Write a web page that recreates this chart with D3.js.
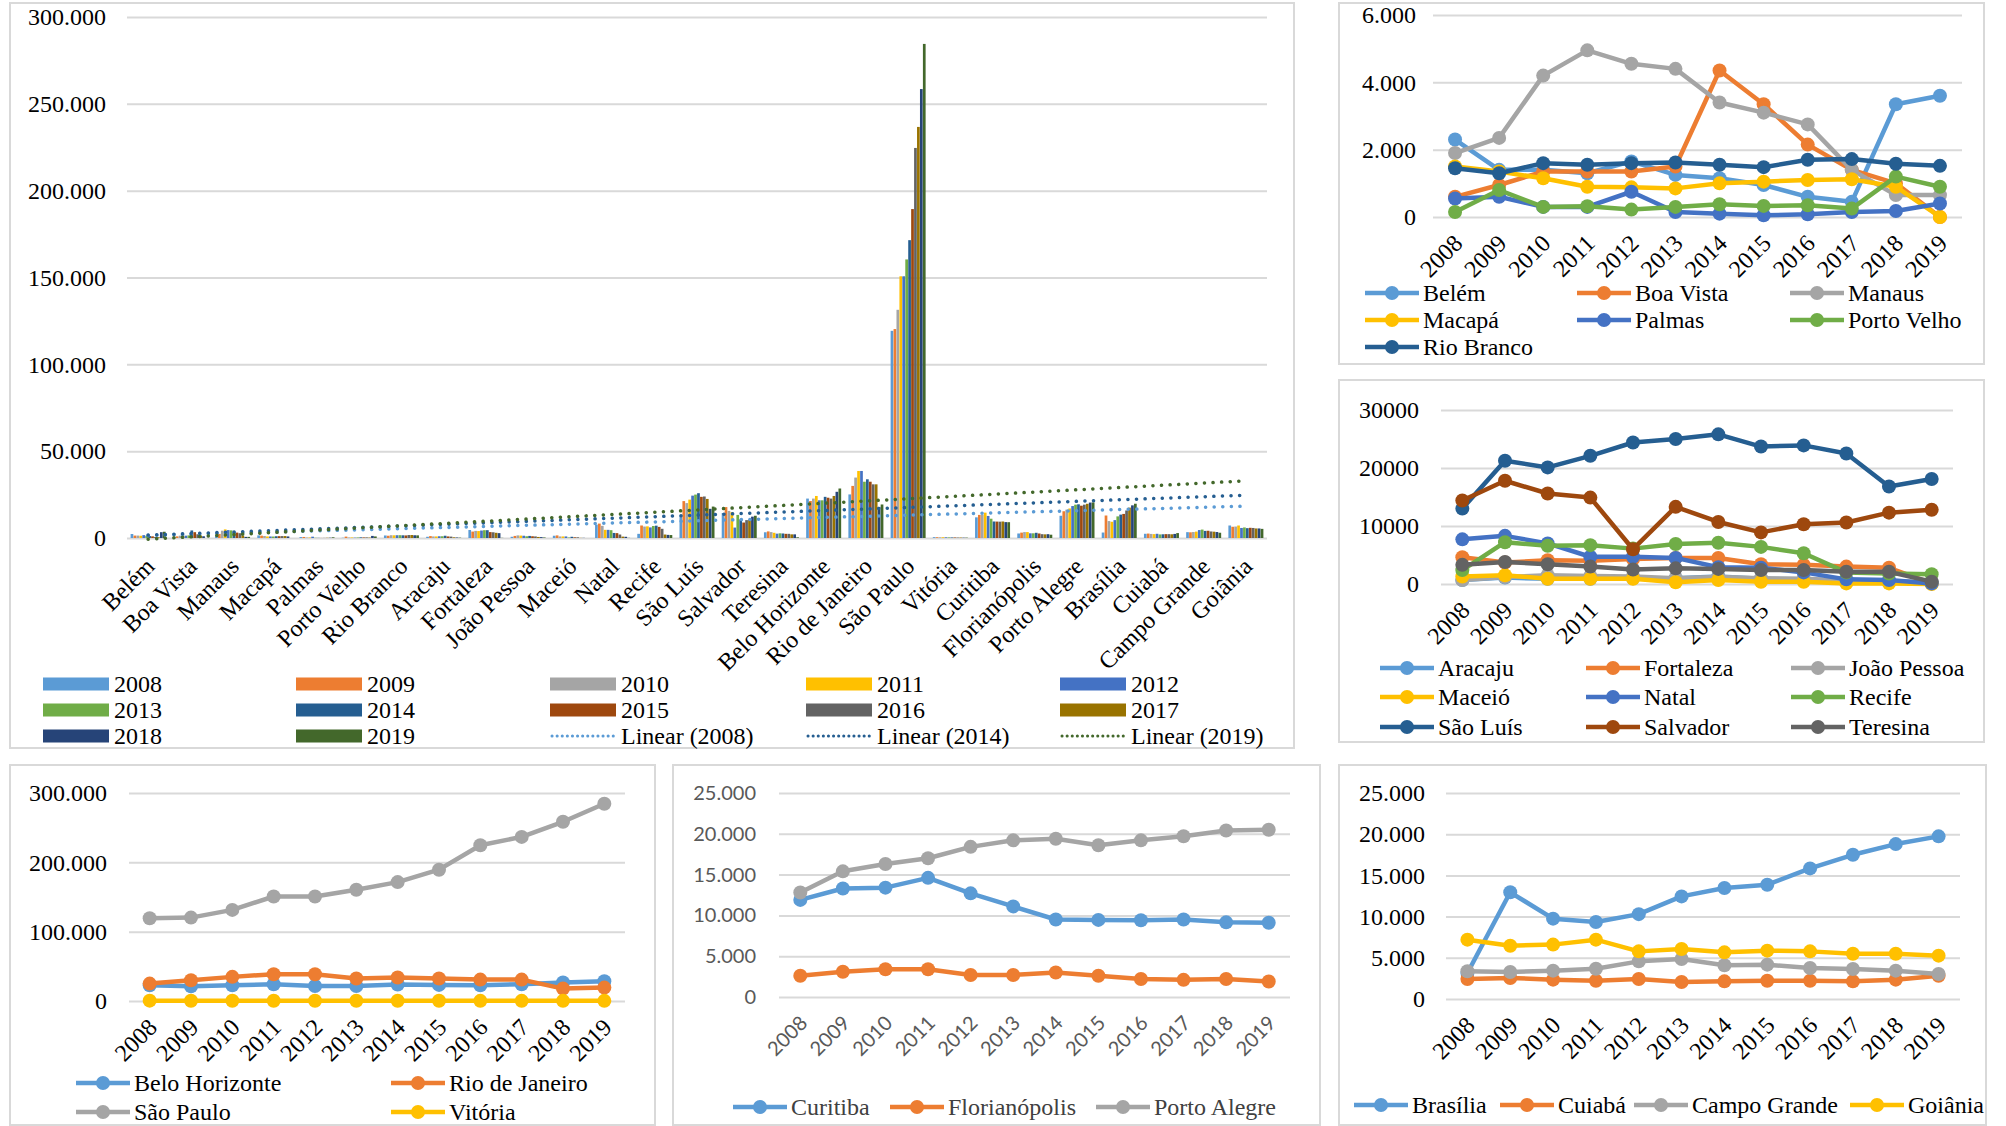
<!DOCTYPE html>
<html>
<head>
<meta charset="utf-8">
<script src="https://cdn.jsdelivr.net/npm/d3@7"></script>
<style>
  body { margin: 0; background: #fff; }
  svg { display: block; }
</style>
</head>
<body>
<svg id="chart" width="2006" height="1126"></svg>
<script>
// ---- data: yearly values per capital city, 2008–2019 ----
const years = [2008, 2009, 2010, 2011, 2012, 2013, 2014, 2015, 2016, 2017, 2018, 2019];

const northCities = ["Belém", "Boa Vista", "Manaus", "Macapá", "Palmas", "Porto Velho", "Rio Branco"];
const northValues = [
  [2300, 1400, 1400, 1300, 1650, 1250, 1150, 950, 600, 450, 3350, 3600],
  [600, 950, 1350, 1350, 1350, 1500, 4350, 3350, 2150, 1400, 1000, 0],
  [1900, 2350, 4200, 4950, 4550, 4400, 3400, 3100, 2750, 1400, 650, 650],
  [1500, 1350, 1150, 900, 880, 850, 1000, 1050, 1100, 1120, 900, 0],
  [550, 600, 300, 300, 750, 150, 100, 50, 80, 150, 180, 400],
  [150, 800, 300, 320, 220, 300, 380, 330, 350, 250, 1200, 900],
  [1450, 1300, 1600, 1550, 1600, 1620, 1550, 1480, 1700, 1720, 1580, 1520]
];

const northeastCities = ["Aracaju", "Fortaleza", "João Pessoa", "Maceió", "Natal", "Recife", "São Luís", "Salvador", "Teresina"];
const northeastValues = [
  [700, 1100, 900, 900, 1000, 1000, 1300, 900, 800, 400, 300, 200],
  [4600, 3700, 4100, 4000, 4300, 4500, 4500, 3400, 3300, 3000, 2800, 100],
  [700, 1200, 1500, 1400, 1300, 1000, 1200, 1000, 900, 600, 500, 300],
  [1300, 1500, 900, 900, 900, 300, 700, 400, 400, 100, 100, 0],
  [7700, 8300, 7000, 4700, 4700, 4500, 2900, 2800, 2000, 800, 700, 100],
  [2400, 7200, 6600, 6700, 6100, 6900, 7100, 6400, 5300, 2000, 1800, 1700],
  [13000, 21250, 20100, 22100, 24400, 25000, 25800, 23700, 23900, 22500, 16800, 18100],
  [14400, 17800, 15600, 14900, 6000, 13300, 10700, 8900, 10300, 10600, 12300, 12800],
  [3300, 3800, 3400, 3000, 2500, 2700, 2600, 2400, 2400, 2100, 2100, 400]
];

const southeastCities = ["Belo Horizonte", "Rio de Janeiro", "São Paulo", "Vitória"];
const southeastValues = [
  [22700, 21300, 22700, 24200, 21700, 21700, 23700, 23200, 22700, 24200, 26600, 28500],
  [25100, 30000, 34800, 38600, 38600, 32400, 33800, 32400, 30900, 30900, 17900, 19300],
  [119300, 120300, 131400, 150700, 150700, 160400, 171500, 189400, 224600, 236700, 258500, 284500],
  [500, 450, 400, 450, 400, 350, 300, 300, 250, 250, 200, 200]
];

const southCities = ["Curitiba", "Florianópolis", "Porto Alegre"];
const southValues = [
  [11900, 13300, 13400, 14600, 12700, 11100, 9500, 9450, 9400, 9500, 9150, 9100],
  [2600, 3100, 3400, 3400, 2700, 2700, 3000, 2600, 2200, 2100, 2200, 1900],
  [12800, 15400, 16300, 17000, 18400, 19200, 19400, 18600, 19200, 19700, 20400, 20500]
];

const centerWestCities = ["Brasília", "Cuiabá", "Campo Grande", "Goiânia"];
const centerWestValues = [
  [3150, 12950, 9750, 9350, 10300, 12450, 13470, 13870, 15850, 17500, 18800, 19740],
  [2430, 2550, 2350, 2220, 2430, 2060, 2140, 2220, 2220, 2140, 2350, 2830],
  [3360, 3280, 3440, 3680, 4570, 4850, 4090, 4170, 3760, 3640, 3440, 3030],
  [7200, 6470, 6600, 7200, 5780, 6070, 5660, 5870, 5780, 5500, 5500, 5260]
];

const trendYears = [2008, 2014, 2019];
const mainTicks = [0, 50000, 100000, 150000, 200000, 250000, 300000];

// ---- styling ----
const palette = ["#5B9BD5", "#ED7D31", "#A5A5A5", "#FFC000", "#4472C4", "#70AD47",
                 "#255E91", "#9E480E", "#636363", "#997300", "#264478", "#43682B"];
const serif = '"Liberation Serif","Times New Roman",serif';
const sans = 'Lato,"Liberation Sans",sans-serif';
const gridColor = "#d9d9d9";
const fmtDot = d3.formatLocale({decimal: ",", thousands: ".", grouping: [3], currency: ["", ""]}).format(",d");
const fmtPlain = d3.format("d");

const svg = d3.select("#chart");

function frame(x0, y0, x1, y1) {
  svg.append("rect")
    .attr("x", x0).attr("y", y0).attr("width", x1 - x0).attr("height", y1 - y0)
    .attr("fill", "#fff").attr("stroke", gridColor).attr("stroke-width", 2);
}

// ================= grouped bar chart of all capitals =================
const allCities = [...northCities, ...northeastCities, ...southeastCities, ...southCities, ...centerWestCities];
const allValues = [...northValues, ...northeastValues, ...southeastValues, ...southValues, ...centerWestValues];

frame(10, 3, 1294, 748);

const mainX = d3.scaleBand().domain(allCities).range([127, 1267]).paddingInner(0.16).paddingOuter(0.08);
const yearX = d3.scaleBand().domain(years).range([0, mainX.bandwidth()]).padding(0.08);
const mainY = d3.scaleLinear().domain([0, 300000]).range([538, 17]);

const mainAxis = svg.append("g").attr("transform", "translate(127,0)")
  .call(d3.axisLeft(mainY).tickValues(mainTicks).tickFormat(fmtDot).tickSize(-1140).tickPadding(21))
  .attr("font-family", serif).attr("font-size", 24);
mainAxis.select(".domain").remove();
mainAxis.selectAll(".tick line").attr("stroke", gridColor).attr("stroke-width", 2);
mainAxis.selectAll(".tick text").style("font-family", serif).style("font-size", "24px").attr("fill", "#000");

const groups = svg.append("g").selectAll("g").data(allCities).join("g")
  .attr("transform", d => `translate(${mainX(d)},0)`);
groups.selectAll("rect")
  .data((d, i) => allValues[i].map((v, j) => ({v, j})))
  .join("rect")
  .attr("x", d => yearX(years[d.j]))
  .attr("width", yearX.bandwidth())
  .attr("y", d => mainY(d.v))
  .attr("height", d => mainY(0) - mainY(d.v))
  .attr("fill", d => palette[d.j]);

// least-squares trend lines across the city index (1..n)
function linearFit(ys) {
  const xs = ys.map((_, i) => i + 1);
  const mx = d3.mean(xs), my = d3.mean(ys);
  const b = d3.sum(xs, (x, i) => (x - mx) * (ys[i] - my)) / d3.sum(xs, x => (x - mx) ** 2);
  return x => my + b * (x - mx);
}
const trendColors = {2008: "#5B9BD5", 2014: "#255E91", 2019: "#43682B"};
trendYears.forEach(yr => {
  const j = years.indexOf(yr);
  const fit = linearFit(allValues.map(a => a[j]));
  const first = allCities[0], last = allCities[allCities.length - 1];
  svg.append("line")
    .attr("x1", mainX(first) + mainX.bandwidth() / 2).attr("y1", mainY(fit(1)))
    .attr("x2", mainX(last) + mainX.bandwidth() / 2).attr("y2", mainY(fit(allCities.length)))
    .attr("stroke", trendColors[yr]).attr("stroke-width", 3.5)
    .attr("stroke-linecap", "round").attr("stroke-dasharray", "0.1 8.5");
});

// rotated city labels
svg.append("g").selectAll("text").data(allCities).join("text")
  .attr("transform", d => `translate(${mainX(d) + mainX.bandwidth() / 2 - 4},${mainY(0) + 18}) rotate(-45)`)
  .attr("text-anchor", "end").attr("dominant-baseline", "hanging")
  .style("font-family", serif).style("font-size", "24px").attr("fill", "#000")
  .text(d => d);

// legend: 12 year swatches + 3 trend lines
const legendItems = years.map((y, j) => ({label: String(y), color: palette[j], kind: "bar"}))
  .concat(trendYears.map(y => ({label: `Linear (${y})`, color: trendColors[y], kind: "trend"})));
const legCols = [43, 296, 550, 806, 1060];
const legRows = [684, 710, 736];
const leg = svg.append("g").selectAll("g").data(legendItems).join("g")
  .attr("transform", (d, i) => `translate(${legCols[i % 5]},${legRows[Math.floor(i / 5)]})`);
leg.filter(d => d.kind === "bar").append("rect")
  .attr("x", 0).attr("y", -6.5).attr("width", 66).attr("height", 13).attr("fill", d => d.color);
leg.filter(d => d.kind === "trend").append("line")
  .attr("x1", 2).attr("x2", 64).attr("y1", 0).attr("y2", 0)
  .attr("stroke", d => d.color).attr("stroke-width", 3).attr("stroke-linecap", "round")
  .attr("stroke-dasharray", "0.1 5");
leg.append("text").attr("x", 71).attr("y", 0).attr("dominant-baseline", "central")
  .style("font-family", serif).style("font-size", "24px").attr("fill", "#000")
  .text(d => d.label);

// ================= regional line charts =================
function linePanel(p) {
  frame(...p.frame);
  const x = d3.scaleBand().domain(years).range([p.left, p.right]);
  const y = d3.scaleLinear().domain([0, p.max]).range([p.zero, p.top]);
  const g = svg.append("g");
  const ax = g.append("g").attr("transform", `translate(${p.left},0)`)
    .call(d3.axisLeft(y).tickValues(d3.range(0, p.max + 1, p.step)).tickFormat(p.fmt)
      .tickSize(-(p.right - p.left)).tickPadding(p.left - p.labelRight))
    .attr("font-family", p.tickFont).attr("font-size", p.tickSize);
  ax.select(".domain").remove();
  ax.selectAll(".tick line").attr("stroke", gridColor).attr("stroke-width", 2);
  ax.selectAll(".tick text").style("font-family", p.tickFont).style("font-size", p.tickSize + "px")
    .attr("fill", p.tickColor);

  g.append("g").selectAll("text").data(years).join("text")
    .attr("transform", d => `translate(${x(d) + x.bandwidth() / 2 - 3},${p.zero + 16}) rotate(-45)`)
    .attr("text-anchor", "end").attr("dominant-baseline", "hanging")
    .style("font-family", p.tickFont).style("font-size", p.tickSize + "px").attr("fill", p.tickColor)
    .text(d => d);

  const line = d3.line().x((d, i) => x(years[i]) + x.bandwidth() / 2).y(d => y(d));
  p.cities.forEach((c, k) => {
    const s = g.append("g");
    s.append("path").attr("d", line(p.values[k])).attr("fill", "none")
      .attr("stroke", palette[k]).attr("stroke-width", 4.5).attr("stroke-linejoin", "round");
    s.selectAll("circle").data(p.values[k]).join("circle")
      .attr("cx", (d, i) => x(years[i]) + x.bandwidth() / 2).attr("cy", d => y(d))
      .attr("r", 7).attr("fill", palette[k]);
  });

  const lg = g.append("g").selectAll("g").data(p.cities).join("g")
    .attr("transform", (d, k) => `translate(${p.legCols[k % p.legCols.length]},${p.legRows[Math.floor(k / p.legCols.length)]})`);
  lg.append("line").attr("x1", 0).attr("x2", 54).attr("stroke", (d, k) => palette[k]).attr("stroke-width", 4.5);
  lg.append("circle").attr("cx", 27).attr("r", 7).attr("fill", (d, k) => palette[k]);
  lg.append("text").attr("x", 58).attr("dominant-baseline", "central")
    .style("font-family", serif).style("font-size", "24px").attr("fill", p.legColor || "#000")
    .text(d => d);
}

linePanel({
  frame: [1339, 3, 1984, 364], left: 1433, right: 1962, top: 15, zero: 217, max: 6000, step: 2000,
  fmt: fmtDot, labelRight: 1416, tickFont: serif, tickSize: 24, tickColor: "#000",
  cities: northCities, values: northValues, legCols: [1365, 1577, 1790], legRows: [293, 320, 347]
});
linePanel({
  frame: [1339, 380, 1984, 742], left: 1441, right: 1953, top: 410, zero: 584, max: 30000, step: 10000,
  fmt: fmtPlain, labelRight: 1419, tickFont: serif, tickSize: 24, tickColor: "#000",
  cities: northeastCities, values: northeastValues, legCols: [1380, 1586, 1791], legRows: [668, 697, 727]
});
linePanel({
  frame: [10, 765, 655, 1125], left: 129, right: 625, top: 793, zero: 1001, max: 300000, step: 100000,
  fmt: fmtDot, labelRight: 107, tickFont: serif, tickSize: 24, tickColor: "#000",
  cities: southeastCities, values: southeastValues, legCols: [76, 391], legRows: [1083, 1112]
});
linePanel({
  frame: [673, 765, 1320, 1125], left: 779, right: 1290, top: 793, zero: 997, max: 25000, step: 5000,
  fmt: fmtDot, labelRight: 756, tickFont: sans, tickSize: 20, tickColor: "#595959",
  cities: southCities, values: southValues, legCols: [733, 890, 1096], legRows: [1107], legColor: "#404040"
});
linePanel({
  frame: [1339, 765, 1986, 1125], left: 1446, right: 1960, top: 793, zero: 999, max: 25000, step: 5000,
  fmt: fmtDot, labelRight: 1425, tickFont: serif, tickSize: 24, tickColor: "#000",
  cities: centerWestCities, values: centerWestValues, legCols: [1354, 1500, 1634, 1850], legRows: [1105]
});
</script>
</body>
</html>
